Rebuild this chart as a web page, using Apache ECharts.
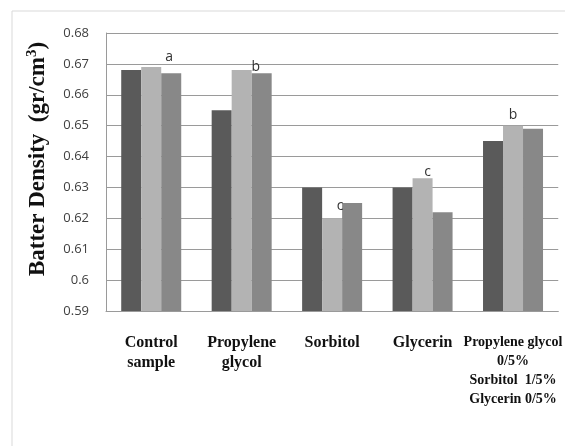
<!DOCTYPE html>
<html>
<head>
<meta charset="utf-8">
<script src="https://cdn.jsdelivr.net/npm/echarts@6/dist/echarts.min.js"></script>
<style>
  html, body { margin: 0; padding: 0; background: #fff; }
  #chart { width: 565px; height: 446px; }
</style>
</head>
<body>
<div id="chart"></div>
<script>
const categories = [
  'Control\nsample',
  'Propylene\nglycol',
  'Sorbitol',
  'Glycerin',
  'Propylene glycol\n0/5%\nSorbitol  1/5%\nGlycerin 0/5%'
]
const seriesDark = [0.668, 0.655, 0.630, 0.630, 0.645]
const seriesLight = [0.669, 0.668, 0.620, 0.633, 0.650]
const seriesMid = [0.667, 0.667, 0.625, 0.622, 0.649]
const letters = ['a', 'b', 'c', 'c', 'b']

// nudge each letter to where it sits over the light bar
const letterOffsets = [[18, 2], [14, 9], [8, 0], [5, 6], [0, 1]]

const chart = echarts.init(document.getElementById('chart'))

const lightData = seriesLight.map((v, i) => ({
  value: v,
  label: {
    show: true,
    position: 'top',
    formatter: letters[i],
    offset: letterOffsets[i],
    color: '#333',
    fontSize: 14,
    fontFamily: 'Open Sans',
  },
}))

const serifBold = { fontFamily: 'Liberation Serif', fontWeight: 'bold', color: '#111' }

chart.setOption({
  animation: false,
  backgroundColor: '#fff',
  graphic: [
    {
      type: 'rect',
      shape: { x: 12, y: 11, width: 700, height: 600 },
      style: { fill: 'none', stroke: '#d9d9d9', lineWidth: 1 },
      silent: true,
    },
  ],
  grid: { left: 106, right: 2, top: 33, bottom: 135 },
  xAxis: {
    type: 'category',
    data: categories,
    axisLine: { lineStyle: { color: '#9a9a9a' } },
    axisTick: { show: false },
    axisLabel: {
      interval: 0,
      margin: 22,
      ...serifBold,
      fontSize: 16,
      lineHeight: 20,
      formatter: (v, i) => (i === 4 ? v.split('\n').map((s) => '{s|' + s + '}').join('\n') : v),
      rich: {
        s: { ...serifBold, fontSize: 14, lineHeight: 19 },
      },
    },
  },
  yAxis: {
    type: 'value',
    min: 0.59,
    max: 0.68,
    interval: 0.01,
    name: 'Batter Density  (gr/cm{sup|3})',
    nameLocation: 'middle',
    nameRotate: 90,
    nameGap: 54,
    nameTextStyle: {
      ...serifBold,
      fontSize: 23,
      padding: [0, 0, 0, 26],
      rich: {
        sup: { ...serifBold, fontSize: 15, verticalAlign: 'top', padding: [0, 0, 12, 0] },
      },
    },
    axisLine: { show: true, lineStyle: { color: '#9a9a9a' } },
    axisTick: { show: false },
    splitLine: { lineStyle: { color: '#9a9a9a' } },
    axisLabel: {
      margin: 17,
      color: '#404040',
      fontFamily: 'Open Sans',
      fontSize: 13,
      padding: [0, 0, 11, 0],
      formatter: (v) => String(+v.toFixed(2)),
    },
  },
  series: [
    { type: 'bar', data: seriesDark, barWidth: 20, barGap: '0%', itemStyle: { color: '#5a5a5a' } },
    { type: 'bar', data: lightData, barWidth: 20, barGap: '0%', itemStyle: { color: '#b3b3b3' } },
    { type: 'bar', data: seriesMid, barWidth: 20, barGap: '0%', itemStyle: { color: '#888888' } },
  ],
})
</script>
</body>
</html>
